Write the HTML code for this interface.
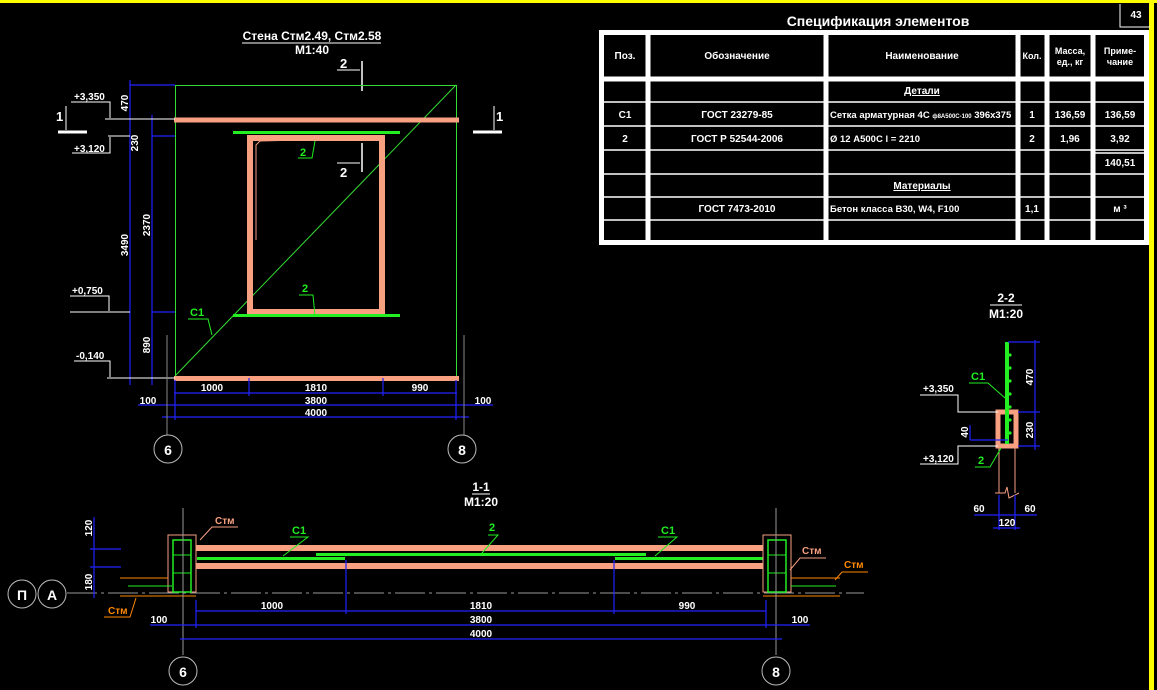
<!DOCTYPE html>
<html><head><meta charset="utf-8"><style>
html,body{margin:0;padding:0;background:#000;}
svg{display:block;}
text{font-family:"Liberation Sans","DejaVu Sans",sans-serif;fill:#fff;font-weight:bold;}
</style></head><body>
<svg width="1157" height="690" viewBox="0 0 1157 690" xmlns="http://www.w3.org/2000/svg">
<rect width="1157" height="690" fill="#000"/>
<rect x="0" y="0" width="1157" height="3" fill="#ffff00"/>
<rect x="1149" y="0" width="5" height="690" fill="#ffff00"/>

<text x="312" y="40" font-size="12" text-anchor="middle" font-weight="normal">Стена Стм2.49, Стм2.58</text>
<line x1="242" y1="43" x2="381" y2="43" stroke="#fff"/>
<text x="312" y="54" font-size="12" text-anchor="middle">М1:40</text>
<line x1="362" y1="61" x2="362" y2="91" stroke="#fff" stroke-width="1.5"/>
<line x1="337" y1="70" x2="360" y2="70" stroke="#fff"/>
<text x="340" y="68" font-size="13">2</text>
<line x1="362" y1="143" x2="362" y2="172" stroke="#fff" stroke-width="1.5"/>
<line x1="337" y1="163" x2="360" y2="163" stroke="#fff"/>
<text x="340" y="177" font-size="13">2</text>
<line x1="58" y1="132" x2="87" y2="132" stroke="#fff" stroke-width="3"/>
<line x1="66" y1="106" x2="66" y2="130" stroke="#fff"/>
<text x="56" y="121" font-size="13">1</text>
<line x1="473" y1="132" x2="502" y2="132" stroke="#fff" stroke-width="3"/>
<line x1="494" y1="106" x2="494" y2="130" stroke="#fff"/>
<text x="496" y="121" font-size="13">1</text>

<rect x="175.5" y="85.5" width="281" height="291" fill="none" stroke="#33dd33" stroke-width="1"/>
<line x1="175" y1="376" x2="456" y2="85" stroke="#33dd33" stroke-width="1"/>
<rect x="174" y="117.5" width="285" height="5" fill="#f8a080"/>
<rect x="174" y="376" width="285" height="5" fill="#f8a080"/>
<rect x="250" y="138" width="132" height="174" fill="none" stroke="#f8a080" stroke-width="6"/>
<rect x="233" y="131" width="167" height="3" fill="#22ee22"/>
<rect x="233" y="314" width="167" height="3" fill="#22ee22"/>
<polyline points="256,240 256,145 260,141 300,140 337,139" fill="none" stroke="#f8a080" stroke-width="1"/>
<polyline points="298,158 312,158 315,141" fill="none" stroke="#22ee22"/>
<text x="300" y="156" font-size="11" style="fill:#22ee22">2</text>
<polyline points="299,295 313,295 315,316" fill="none" stroke="#22ee22"/>
<text x="302" y="292" font-size="11" style="fill:#22ee22">2</text>
<polyline points="188,319 208,319 212,335" fill="none" stroke="#22ee22"/>
<text x="190" y="316" font-size="11" style="fill:#22ee22">С1</text>

<g stroke="#2222ff" stroke-width="1.2">
<line x1="130" y1="80" x2="130" y2="385"/>
<line x1="152" y1="115" x2="152" y2="385"/>
<line x1="130" y1="85" x2="175" y2="85"/>
<line x1="152" y1="136" x2="175" y2="136"/>
<line x1="152" y1="312" x2="175" y2="312"/>
</g>
<g stroke="#fff" stroke-width="1" fill="none">
<line x1="105" y1="119" x2="175" y2="119"/>
<line x1="108" y1="136" x2="130" y2="136"/>
<line x1="70" y1="312" x2="130" y2="312"/>
<line x1="107" y1="378" x2="175" y2="378"/>
<polyline points="71,102 110,102 110,118"/>
<polyline points="72,153 110,153 110,137"/>
<polyline points="70,296 109,296 109,311"/>
<polyline points="74,361 110,361 110,377"/>
</g>
<text x="74" y="100" font-size="10">+3,350</text>
<text x="74" y="152" font-size="10">+3,120</text>
<text x="72" y="294" font-size="10">+0,750</text>
<text x="76" y="359" font-size="10">-0,140</text>
<g font-size="10">
<text transform="translate(128,103) rotate(-90)" text-anchor="middle">470</text>
<text transform="translate(138,143) rotate(-90)" text-anchor="middle">230</text>
<text transform="translate(128,245) rotate(-90)" text-anchor="middle">3490</text>
<text transform="translate(150,225) rotate(-90)" text-anchor="middle">2370</text>
<text transform="translate(150,345) rotate(-90)" text-anchor="middle">890</text>
</g>
<g stroke="#2222ff" stroke-width="1.2">
<line x1="174" y1="393" x2="457" y2="393"/>
<line x1="138" y1="405" x2="493" y2="405"/>
<line x1="162" y1="417" x2="469" y2="417"/>
<line x1="175" y1="380" x2="175" y2="420"/>
<line x1="456" y1="380" x2="456" y2="420"/>
<line x1="249" y1="378" x2="249" y2="396"/>
<line x1="383" y1="378" x2="383" y2="396"/>
</g>
<g stroke="#888" stroke-width="1"><line x1="167" y1="335" x2="167" y2="435"/><line x1="464" y1="335" x2="464" y2="435"/></g>
<g font-size="10" text-anchor="middle">
<text x="212" y="391">1000</text><text x="316" y="391">1810</text><text x="420" y="391">990</text>
<text x="148" y="404">100</text><text x="316" y="404">3800</text><text x="483" y="404">100</text>
<text x="316" y="416">4000</text>
</g>
<g fill="none" stroke="#bbb"><circle cx="168" cy="449" r="14"/><circle cx="462" cy="449" r="14"/></g>
<text x="168" y="455" font-size="14" text-anchor="middle">6</text>
<text x="462" y="455" font-size="14" text-anchor="middle">8</text>

<text x="878" y="26" font-size="14" text-anchor="middle">Спецификация элементов</text>
<polyline points="1120,4 1120,27 1150,27" fill="none" stroke="#fff"/>
<text x="1136" y="18" font-size="10" text-anchor="middle">43</text>
<g stroke="#fff" fill="none">
<rect x="601.5" y="32.5" width="545" height="210" stroke-width="5"/>
<g stroke-width="5">
<line x1="648" y1="32" x2="648" y2="243"/>
<line x1="826" y1="32" x2="826" y2="243"/>
<line x1="1018" y1="32" x2="1018" y2="243"/>
<line x1="1047" y1="32" x2="1047" y2="243"/>
<line x1="1093" y1="32" x2="1093" y2="243"/>
<line x1="600" y1="79" x2="1148" y2="79"/>
</g>
<g stroke-width="1.5">
<line x1="600" y1="102" x2="1148" y2="102"/>
<line x1="600" y1="126" x2="1148" y2="126"/>
<line x1="600" y1="150" x2="1148" y2="150"/>
<line x1="1093" y1="153" x2="1148" y2="153"/>
<line x1="600" y1="174" x2="1148" y2="174"/>
<line x1="600" y1="197" x2="1148" y2="197"/>
<line x1="600" y1="220" x2="1148" y2="220"/>
</g>
</g>
<g font-size="10" text-anchor="middle">
<text x="625" y="59">Поз.</text>
<text x="737" y="59">Обозначение</text>
<text x="922" y="59">Наименование</text>
<text x="1032" y="59" font-size="9">Кол.</text>
<text x="1070" y="54" font-size="9">Масса,</text><text x="1070" y="65" font-size="9">ед., кг</text>
<text x="1120" y="54" font-size="9">Приме-</text><text x="1120" y="65" font-size="9">чание</text>
<text x="922" y="94" text-decoration="underline">Детали</text>
<text x="625" y="118">С1</text><text x="737" y="118">ГОСТ 23279-85</text>
<text x="1032" y="118">1</text><text x="1070" y="118">136,59</text><text x="1120" y="118">136,59</text>
<text x="625" y="142">2</text><text x="737" y="142">ГОСТ Р 52544-2006</text>
<text x="1032" y="142">2</text><text x="1070" y="142">1,96</text><text x="1120" y="142">3,92</text>
<text x="1120" y="166">140,51</text>
<text x="922" y="189" text-decoration="underline">Материалы</text>
<text x="737" y="212">ГОСТ 7473-2010</text>
<text x="1032" y="212">1,1</text><text x="1120" y="212">м ³</text>
</g>
<g font-size="9.5">
<text x="830" y="118">Сетка арматурная 4С <tspan font-size="6">ф8А500С-100</tspan> 396х375</text>
<text x="830" y="142">Ø 12 А500С   l = 2210</text>
<text x="830" y="212">Бетон класса В30, W4, F100</text>
</g>

<text x="1006" y="302" font-size="12" text-anchor="middle">2-2</text>
<line x1="990" y1="305" x2="1022" y2="305" stroke="#fff"/>
<text x="1006" y="318" font-size="12" text-anchor="middle">М1:20</text>
<rect x="998" y="412" width="18" height="34" fill="none" stroke="#f8a080" stroke-width="5"/>
<rect x="1005" y="342" width="4" height="102" fill="#22ee22"/>
<g fill="#22ee22"><circle cx="1010" cy="355" r="1.6"/><circle cx="1010" cy="368" r="1.6"/><circle cx="1010" cy="381" r="1.6"/><circle cx="1010" cy="394" r="1.6"/><circle cx="1010" cy="407" r="1.6"/><circle cx="1010" cy="420" r="1.6"/><circle cx="1010" cy="433" r="1.6"/></g>
<g stroke="#f8a080" fill="none"><line x1="999" y1="448" x2="999" y2="493"/><line x1="1015" y1="448" x2="1015" y2="493"/><polyline points="995,493 1005,493 1007,487 1009,498 1019,493"/></g>
<g stroke="#2222ff" stroke-width="1.2">
<line x1="1035" y1="340" x2="1035" y2="450"/>
<line x1="1008" y1="342" x2="1040" y2="342"/>
<line x1="1018" y1="412" x2="1040" y2="412"/>
<line x1="1018" y1="446" x2="1040" y2="446"/>
<line x1="970" y1="440" x2="1008" y2="440"/>
<line x1="970" y1="425" x2="970" y2="440"/>
<line x1="974" y1="515" x2="1037" y2="515"/>
<line x1="993" y1="528" x2="1020" y2="528"/>
<line x1="999" y1="495" x2="999" y2="530"/>
<line x1="1015" y1="495" x2="1015" y2="530"/>
</g>
<g stroke="#fff" fill="none"><polyline points="920,395 958,395 958,412 998,412"/><polyline points="920,464 958,464 958,446 998,446"/></g>
<text x="923" y="392" font-size="10">+3,350</text>
<text x="923" y="462" font-size="10">+3,120</text>
<g font-size="10">
<text transform="translate(1033,377) rotate(-90)" text-anchor="middle">470</text>
<text transform="translate(1033,430) rotate(-90)" text-anchor="middle">230</text>
<text transform="translate(968,432) rotate(-90)" text-anchor="middle">40</text>
<text x="979" y="512" text-anchor="middle">60</text><text x="1030" y="512" text-anchor="middle">60</text>
<text x="1007" y="526" text-anchor="middle">120</text>
</g>
<polyline points="969,383 988,383 1005,398" fill="none" stroke="#22ee22"/>
<text x="971" y="380" font-size="11" style="fill:#22ee22">С1</text>
<polyline points="975,467 990,467 1001,448" fill="none" stroke="#22ee22"/>
<text x="978" y="464" font-size="11" style="fill:#22ee22">2</text>

<text x="481" y="491" font-size="12" text-anchor="middle">1-1</text>
<line x1="472" y1="494" x2="490" y2="494" stroke="#fff"/>
<text x="481" y="506" font-size="12" text-anchor="middle">М1:20</text>
<line x1="67" y1="593" x2="864" y2="593" stroke="#999" stroke-dasharray="30,4,3,4"/>
<rect x="196" y="545" width="567" height="6" fill="#f8a080"/>
<rect x="196" y="563" width="567" height="6" fill="#f8a080"/>
<rect x="316" y="553" width="330" height="3" fill="#22ee22"/>
<rect x="197" y="557" width="148" height="3" fill="#22ee22"/>
<rect x="615" y="557" width="148" height="3" fill="#22ee22"/>
<g fill="none">
<rect x="168" y="535" width="28" height="57" stroke="#f8a080"/>
<rect x="173" y="540" width="18" height="52" stroke="#22ee22" stroke-width="1.5"/>
<rect x="763" y="535" width="28" height="57" stroke="#f8a080"/>
<rect x="768" y="540" width="18" height="52" stroke="#22ee22" stroke-width="1.5"/>
<line x1="173" y1="555" x2="191" y2="555" stroke="#22ee22"/><line x1="173" y1="573" x2="191" y2="573" stroke="#22ee22"/>
<line x1="768" y1="555" x2="786" y2="555" stroke="#22ee22"/><line x1="768" y1="573" x2="786" y2="573" stroke="#22ee22"/>
<line x1="120" y1="578" x2="168" y2="578" stroke="#ff8800"/>
<line x1="120" y1="596" x2="196" y2="596" stroke="#ff8800"/>
<line x1="128" y1="586" x2="172" y2="586" stroke="#22ee22"/>
<line x1="791" y1="578" x2="840" y2="578" stroke="#ff8800"/>
<line x1="763" y1="596" x2="840" y2="596" stroke="#ff8800"/>
<line x1="791" y1="586" x2="836" y2="586" stroke="#22ee22"/>
</g>
<g stroke="#999"><line x1="183" y1="508" x2="183" y2="655"/><line x1="776" y1="508" x2="776" y2="655"/></g>
<g stroke="#2222ff" stroke-width="1.2">
<line x1="94" y1="517" x2="94" y2="598"/>
<line x1="90" y1="549" x2="121" y2="549"/><line x1="90" y1="567" x2="121" y2="567"/>
<line x1="196" y1="611" x2="766" y2="611"/>
<line x1="150" y1="625" x2="810" y2="625"/>
<line x1="180" y1="639" x2="782" y2="639"/>
<line x1="346" y1="560" x2="346" y2="614"/>
<line x1="614" y1="560" x2="614" y2="614"/>
<line x1="196" y1="600" x2="196" y2="628"/>
<line x1="766" y1="600" x2="766" y2="628"/>
</g>
<g font-size="10" text-anchor="middle">
<text transform="translate(92,528) rotate(-90)">120</text>
<text transform="translate(92,582) rotate(-90)">180</text>
<text x="272" y="609">1000</text><text x="481" y="609">1810</text><text x="687" y="609">990</text>
<text x="159" y="623">100</text><text x="481" y="623">3800</text><text x="800" y="623">100</text>
<text x="481" y="637">4000</text>
</g>
<g font-size="10">
<text x="215" y="524" style="fill:#f8a080">Стм</text>
<text x="802" y="554" style="fill:#f8a080">Стм</text>
<text x="844" y="568" style="fill:#ff8800">Стм</text>
<text x="108" y="614" style="fill:#ff8800">Стм</text>
</g>
<g fill="none">
<polyline points="238,527 212,527 200,540" stroke="#f8a080"/>
<polyline points="826,558 800,558 790,570" stroke="#f8a080"/>
<polyline points="868,572 842,572 835,580" stroke="#ff8800"/>
<polyline points="104,617 130,617 136,598" stroke="#ff8800"/>
<polyline points="290,537 308,537 283,556" stroke="#22ee22"/>
<polyline points="488,535 498,535 482,553" stroke="#22ee22"/>
<polyline points="658,537 677,537 655,556" stroke="#22ee22"/>
</g>
<text x="292" y="534" font-size="11" style="fill:#22ee22">С1</text>
<text x="489" y="531" font-size="11" style="fill:#22ee22">2</text>
<text x="661" y="534" font-size="11" style="fill:#22ee22">С1</text>
<g fill="none" stroke="#bbb"><circle cx="22" cy="594" r="14"/><circle cx="52" cy="594" r="14"/><circle cx="183" cy="671" r="14"/><circle cx="776" cy="671" r="14"/></g>
<g font-size="14" text-anchor="middle">
<text x="22" y="600">П</text><text x="52" y="600">А</text>
<text x="183" y="677">6</text><text x="776" y="677">8</text>
</g>
</svg>
</body></html>
